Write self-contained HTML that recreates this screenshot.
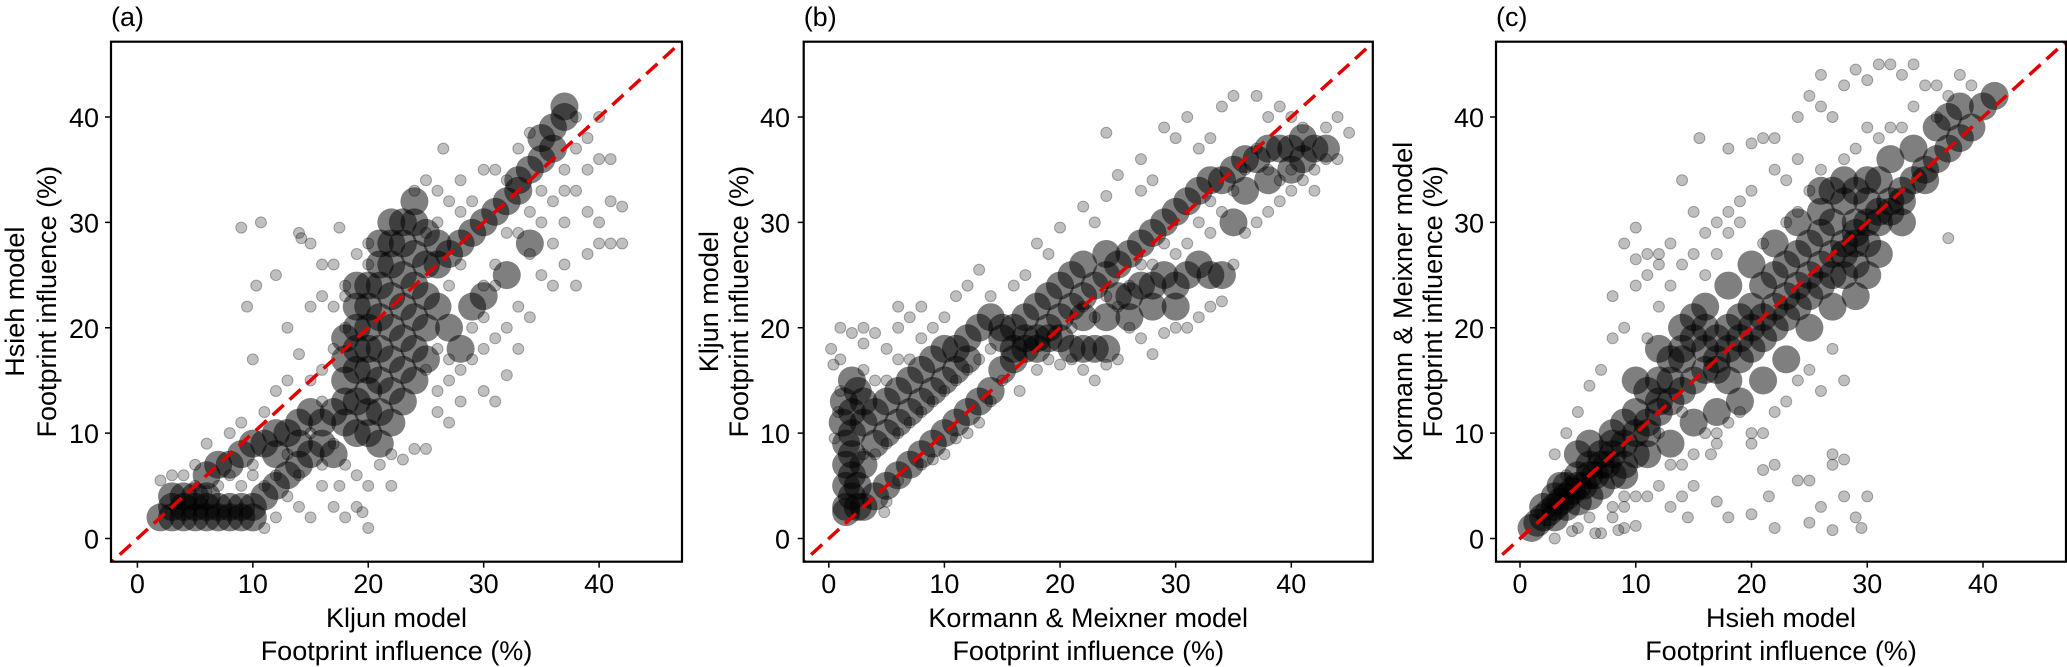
<!DOCTYPE html>
<html><head><meta charset="utf-8">
<style>
html,body{margin:0;padding:0;background:#fff;}
svg{display:block;font-family:"Liberation Sans",Arial,sans-serif;}
</style></head>
<body>
<svg id="fig" width="2067" height="667" viewBox="0 0 2067 667" xmlns="http://www.w3.org/2000/svg"></svg>
<script>
const panelACore=[[2,2],[3,2],[3,3],[4,2],[4,3],[5,2],[5,3],[6,2],[6,3],[7,2],[7,3],[8,2],[3,4],[4,4],[5,4],[6,4],[8,3],[9,2],[9,3],[10,3],[10,2],
[6,6],[7,7],[8,7],[9,8],[10,9],[11,9],[12,10],[12,8],[13,10],[14,11],[14,9],[15,12],[16,11],
[18,15],[18,17],[18,19],[19,13],[19,16],[19,18],[19,20],[20,10],[20,12],[20,14],[20,16],[20,18],[20,20],[20,22],[21,9],[21,12],[21,15],[21,18],[21,21],[21,24],[22,11],[22,14],[22,17],[22,20],[22,23],[22,26],[23,13],[23,16],[23,19],[23,22],[23,25],[23,28],[24,15],[24,18],[24,21],[24,24],[24,27],[24,30],[25,17],[25,20],[25,23],[25,26],[22,28],[23,30],[21,26],[20,24],[19,22],
[26,26],[27,27],[28,28],[29,29],[30,30],[31,31],[32,32],[33,33],[34,35],[35,36],[36,37],[37,40],[37,41],[36,39],[35,38],[33,34],[26,22],[27,20],[28,18],[30,23],[32,25],[34,28],[29,22],
[17,12],[18,11],[16,9],[15,8],[14,7],[13,6],[12,5],[11,4],[17,8],[19,10],[18,13],[26,28],[25,29],[24,32],[22,30],[21,28],[19,24]];
const panelASparse=[[9,29.5],[10.7,30],[10.3,24],[12,25],[9.5,22],[10,17],[14,29],[14.2,28.5],[15,28],[17.5,29.5],[13,20],[14,17.5],[15,22],[16,23],[17,22],[16,26],[17,26],[18,24],[19,27],[20,28],[18,23],[12,14],[13,15],[15,15],[16,13],[11,12],[8,10],[9,11],[6,9],[5,7],[4,6],[3,6],[2,5.5],[10,6],[11,5],[12,6],[13,4],[14,3],[15,2],[16,5],[17,3],[18,2],[19,3],[20,1],[19.5,2.5],[16,7],[18,7],[17,9],[14,6],[12,2],[11,1],[17.5,5],[19,6],[20,5],[22,8],[24,8.5],[25,8.5],[23,7.5],[26,12],[27,11],[28,13],[30,14],[31,13],[32,15.5],[33,18],[32,20],[33,22],[34,21],[35,25],[36,24],[37,26],[38,24],[39,27],[40,28],[41,28],[42,28],[40,30],[41,32],[42,31.5],[39,31],[38,33],[37,33],[36,32],[35,30],[34,27],[33,29],[31,26],[30,24],[29,20],[28,16],[27,15],[26,14],[25,16],[30,18],[31,19],[29,17],[36,28],[37,30],[35,33],[39,35],[40,36],[41,36],[39,38],[40,40],[38,40],[34,38.5],[33,37],[28,34],[26.5,37],[25,34],[24,33],[26,33],[27,32],[28,31],[29,32],[30,35],[31,35],[32,34],[20,26],[18,20],[17,18],[25,29],[26,30],[38,37],[37,35],[34,31],[32,29],[31,24],[27,24],[28,26],[26,18],[27,17],[30,21],[22,5],[21,7],[15,10],[16,16],[13,8],[9,5],[7,5],[8,6],[10,7],[5,5],[6,4.5]];
const panelBCore=[[1.5,3],[1.5,5],[1.5,7],[1.5,9],[2,4],[2,6],[2,8],[2,10],[2,12],[2.5,3],[2.5,5],[2.5,14],[3,3],[3,11],[3,13],[1.2,11],[1.3,13],[4,4],[4,12],[5,5],[5,13],[6,6],[6,14],[7,7],[7,15],[8,8],[8,16],[9,9],[9,17],[10,10],[10,18],[11,11],[11,18],[12,12],[12,19],[13,13],[13,20],[14,14],[14,21],[15,16],[15,19],[16,17],[16,20],[17,18],[17,21],[18,19],[18,22],[19,20],[19,23],[20,21],[20,24],[21,22],[21,25],[22,23],[22,26],[23,24],[24,25],[24,27],[25,26],[26,27],[27,28],[28,29],[29,30],[30,31],[31,32],[32,33],[33,34],[34,34],[35,35],[36,36],[37,36],[38,37],[39,37],[40,37],[41,38],[42,37],[43,37],[25,23],[27,24],[29,25],[31,25],[33,25],[34,25],[26,21],[28,22],[30,22],[15,20],[16,18],[17,19],[18,18],[19,19],[20,19],[21,18],[22,18],[23,18],[24,18],
[4,9],[5,10],[6,11],[7,12],[8,13],[9,14],[10,15],[11,16],[12,17],[3,7],[2,15],[22,21],[24,21],[26,23],[28,24],[30,24],[32,26],[35,30],[36,33],[38,34],[40,35],[41,36],[1.5,2.5]];
const panelBSparse=[[0.2,18],[0.4,16.5],[1,20],[1,17],[2,19.5],[3,18.5],[4,19.5],[5,18],[6,20],[6,22],[7,21],[8,22],[9,20],[10,21],[11,23],[12,24],[13,25.5],[14,23],[16,24],[17,25],[18,28],[19,27],[20,29.5],[22,31.5],[23,30],[24,32.5],[24,38.5],[25,34.5],[27,36],[27,33],[28,34],[29,39],[30,38],[31,40],[32,37],[33,38],[34,41],[35,42],[37,42],[38,40],[39,41],[40,40],[41,39],[43,39],[44,40],[45,38.5],[44,36],[42,33],[41,34],[40,33],[39,32],[38,31],[37,30],[36,29],[35,26],[34,22.5],[33,22],[32,21],[31,20],[30,20],[29,19.5],[28,17.5],[27,19],[26,20],[25,17],[24,16.5],[23,15],[22,16],[21,17],[20,16.5],[19,17],[18,16],[16.5,14],[15,15],[14,13],[13,11],[12,10],[11,9.5],[10,8],[9,7.5],[8,7],[6,5.5],[5,3.5],[4.8,2.5],[3,8],[4,8],[5,9],[6,10],[7,11],[8,12],[9,13],[10,14],[11,15],[12,16],[13,17],[14,18],[3,16],[4,15],[5,15],[6,17],[7,17],[8,19],[0.5,9.5],[0.8,12],[1,14],[3,20],[36,35],[37,37],[38,35],[39,34],[40,35],[42,35],[43,36],[32,30],[33,29],[34,31],[30,27],[28,26],[26,24],[27,26],[29,28],[31,28],[33,32],[35,33],[21,20],[23,21],[25,22],[22,22],[24,23]];
const panelCCore=[[1,1],[1.5,1.5],[2,2],[2.5,2.5],[3,3],[3.5,3.5],[4,4],[4.5,4.5],[5,5],[5.5,5],[6,6],[6.5,6],[7,7],[7.5,7],[8,8],[9,9],[10,10],[11,11],[12,12],[13,13],[14,14],[15,15],[16,16],[17,17],[18,18],[19,19],[20,20],[21,21],[22,22],[23,23],[24,24],[25,25],[26,26],[27,27],[28,28],[29,29],[30,30],[31,31],[32,32],[33,33],[34,34],[35,35],[36,36],[37,37],[38,38],[39,39],[40,41],[41,42],[3,4],[4,5],[5,6],[6,7],[7,8],[2,3],[8,10],[9,11],[10,12],[11,14],[12,15],[13,17],[14,18],[15,19],[16,18],[17,16],[18,15],[19,17],[20,18],[21,19],[22,20],[23,21],[24,22],[25,23],[26,24],[27,25],[28,27],[29,28],[27,30],[26,31],[25,28],[24,27],[23,26],[22,25],[21,24],[20,22],[19,21],[18,20],[17,19],[16,20],[15,21],[14,17],[13,15],[12,13],[11,10],[10,8],[9,7],[8,6],[7,5],[6,4],[5,3.5],[4,3],[3,2],[28,25],[29,26],[30,28],[31,30],[32,31],[33,32],[29,33],[28,32],[27,33],[26,29],[30,32],[31,34],[32,36],[30,34],
[10,15],[12,18],[14,20],[16,22],[18,24],[20,26],[22,28],[24,30],[26,33],[28,34],[29,30],[27,22],[25,20],[23,17],[21,15],[19,13],[17,12],[15,11],[13,9],[11,8],[9,6],[8,9],[6,9],[5,8],[3.5,5],[34,37],[36,39],[38,41],[37,40],[35,34],[33,30],[31,27],[30,25],[29,23]];
const panelCSparse=[[15.5,38],[18,37],[20,37.5],[22,38],[24,40],[25,42],[26,44],[28,43],[29,44.5],[30,43.5],[31,45],[32,45],[33,44],[34,45],[35,43],[36,43],[37,42],[38,44],[39,43],[36,40],[34,41],[33,39],[30,39],[27,40],[26,41],[24,36],[23,34],[22,35],[21,38],[20,33],[19,32],[18,31],[17,30],[16,29],[15,31],[14,34],[13,28],[12,27],[11,25],[10,24],[9,28],[10,29.5],[10,26.5],[11,27],[12,26],[14,26],[15,27],[8,23],[9,20],[8,19],[7,16],[6,14.5],[5,12],[4,10],[3,8],[4,6],[11,19],[12,22],[13,24],[16,25],[17,27],[18,29],[19,30],[21,28],[23,30],[24,31],[25,33],[26,35],[28,36],[29,37],[31,38],[32,39],[37,28.5],[28,15],[26,14],[27,18],[25,16],[24,15],[23,13],[22,12],[21,10],[20,10],[19,12],[18,11],[17,10],[16,10],[15,8],[14,7],[13,7],[12,5],[11,4],[10,4],[9,3],[8,2],[7,0.5],[6.5,0.5],[4.5,0.7],[9,1],[10,1.2],[8.5,0.8],[13,3],[14,4],[14.5,2],[15,5],[17,3.5],[18,2],[20,2.3],[21.5,4],[22,1],[24,5.5],[25,5.5],[25,1.5],[26,3],[27,0.8],[27,8],[27,7],[28,4],[28,7.5],[29,2],[29.5,1],[30,4],[20,9],[22,7],[21,6.5],[9,4],[8,3],[6,2],[5,1],[3,0],[16.5,8],[17,9],[14,12],[12,10]];
const tickValues=[0,10,20,30,40];
const panelLetters=["(a)","(b)","(c)"];
const xTitles=["Kljun model","Kormann & Meixner model","Hsieh model"];
const yTitles=["Hsieh model","Kljun model","Kormann & Meixner model"];
const axisSubtitle="Footprint influence (%)";

const NS="http://www.w3.org/2000/svg";
const svgRoot=document.getElementById('fig');
function mk(tag,attrs,parent){const e=document.createElementNS(NS,tag);for(const k in attrs)e.setAttribute(k,attrs[k]);(parent||svgRoot).appendChild(e);return e;}

const layouts=[
 {left:111,right:682,x0:137.4,x40:599.1,ytl:99,yt1:14,yt2:46},
 {left:803.7,right:1372.8,x0:828.8,x40:1291.3,ytl:790,yt1:708,yt2:738},
 {left:1496,right:2066,x0:1520,x40:1983,ytl:1484,yt1:1402,yt2:1432}
];
const plotTop=41.7,plotBottom=561.7,y0px=538.5,y40px=117;
const datasets=[[panelACore,panelASparse],[panelBCore,panelBSparse],[panelCCore,panelCSparse]];

layouts.forEach((L,i)=>{
  const g=mk('g',{});
  
  
  const xs=v=>L.x0+(L.x40-L.x0)*v/40;
  const ys=v=>y0px+(y40px-y0px)*v/40;
  const clipId='clip'+i;
  const cp=mk('clipPath',{id:clipId},g);
  mk('rect',{x:L.left,y:plotTop,width:L.right-L.left,height:plotBottom-plotTop},cp);
  const pts=mk('g',{'clip-path':'url(#'+clipId+')'},g);
  
  
  datasets[i][1].forEach(p=>{
    const c=mk('circle',{cx:xs(p[0]),cy:ys(p[1]),r:5.5,fill:'rgba(0,0,0,0.25)',stroke:'rgba(0,0,0,0.3)','stroke-width':1},pts);
    
    
  });
  datasets[i][0].forEach(p=>{
    const c=mk('circle',{cx:xs(p[0]),cy:ys(p[1]),r:14,fill:'rgba(0,0,0,0.5)'},pts);
    
    
  });
  const ln=mk('line',{x1:xs(-3),y1:ys(-3),x2:xs(48),y2:ys(48),stroke:'#e00000','stroke-width':3.5,'stroke-dasharray':'15,8','clip-path':'url(#'+clipId+')'},g);
  
  
  const fr=mk('rect',{x:L.left,y:plotTop,width:L.right-L.left,height:plotBottom-plotTop,fill:'none',stroke:'#000','stroke-width':2.2},g);
  
  
  tickValues.forEach(t=>{
    mk('line',{x1:xs(t),x2:xs(t),y1:plotBottom,y2:plotBottom+6,stroke:'#000','stroke-width':1.5},g);
    const xl=mk('text',{x:xs(t),y:593,'text-anchor':'middle','font-size':27},g);
    xl.textContent=t;
    
    
    mk('line',{x1:L.left-6,x2:L.left,y1:ys(t),y2:ys(t),stroke:'#000','stroke-width':1.5},g);
    const yl=mk('text',{x:L.ytl,y:ys(t)+10,'text-anchor':'end','font-size':27},g);
    yl.textContent=t;
    
    
  });
  const pl=mk('text',{x:L.left,y:26,'font-size':27},g);
  pl.textContent=panelLetters[i];
  
  
  const cx=(L.left+L.right)/2;
  const xt1=mk('text',{x:cx,y:627,'text-anchor':'middle','font-size':27},g);
  xt1.textContent=xTitles[i];
  
  
  const xt2=mk('text',{x:cx,y:660,'text-anchor':'middle','font-size':27},g);
  xt2.textContent=axisSubtitle;
  
  
  const cy=(plotTop+plotBottom)/2;
  const yt1=mk('text',{x:0,y:0,'text-anchor':'middle','font-size':27,transform:`translate(${L.yt1+10},${cy}) rotate(-90)`},g);
  yt1.textContent=yTitles[i];
  
  
  const yt2=mk('text',{x:0,y:0,'text-anchor':'middle','font-size':27,transform:`translate(${L.yt2+10},${cy}) rotate(-90)`},g);
  yt2.textContent=axisSubtitle;
  
  
});
</script>
</body></html>
